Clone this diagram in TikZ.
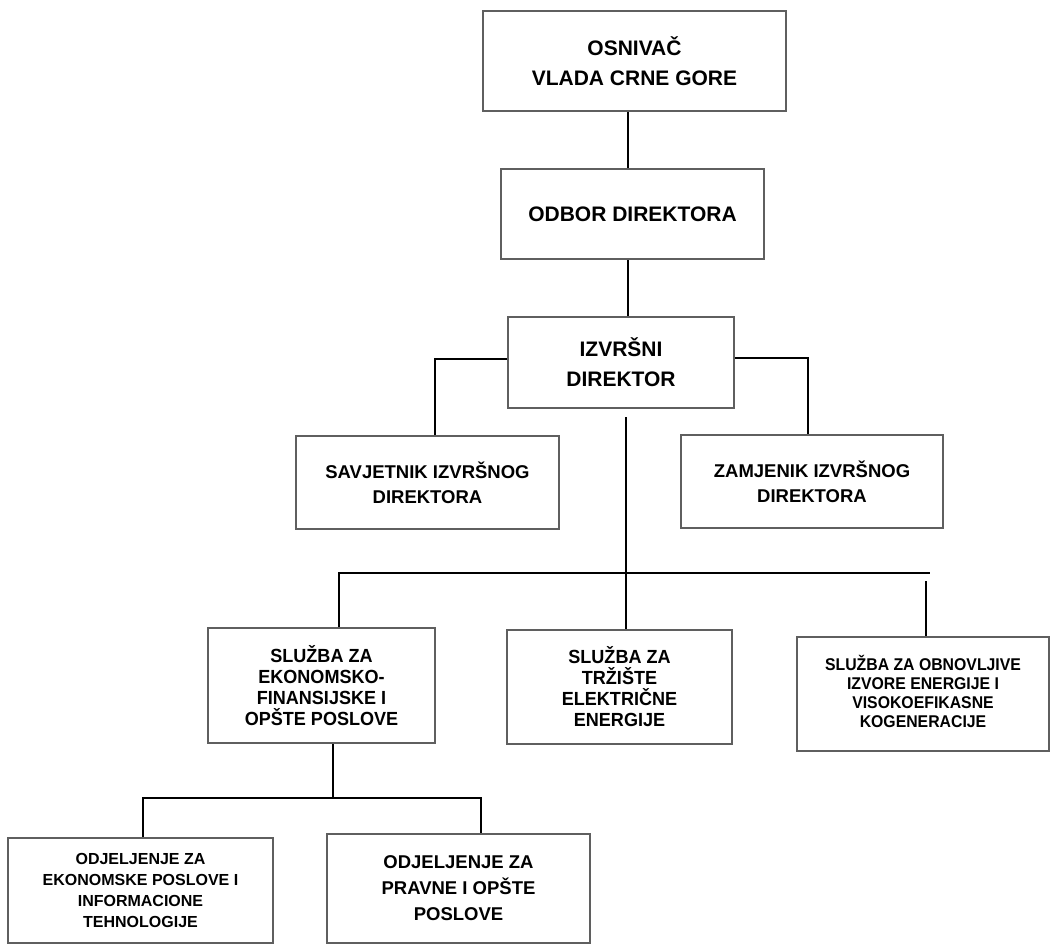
\documentclass[tikz,border=0pt]{standalone}
\usepackage{fontspec}
\setmainfont{Liberation Sans}
\newfontfamily\narrowA[FakeStretch=0.95]{Liberation Sans}
\newfontfamily\narrowB[FakeStretch=0.93]{Liberation Sans}
\definecolor{boxgray}{RGB}{95,95,95}
\begin{document}
\begin{tikzpicture}[x=1pt,y=-1pt,
  orgbox/.style={draw=boxgray, line width=2.8pt, align=center, inner sep=0pt, fill=white},
  conn/.style={draw=black, line width=2.4pt},
  fbig/.style={font=\fontsize{21}{30}\selectfont\bfseries},
  fmid/.style={font=\fontsize{18.5}{25}\selectfont\bfseries},
  fsla/.style={font=\narrowA\fontsize{19}{21}\selectfont\bfseries},
  fslb/.style={font=\narrowB\fontsize{17}{19}\selectfont\bfseries},
  fodA/.style={font=\fontsize{16}{21}\selectfont\bfseries},
  fodB/.style={font=\fontsize{18.5}{26}\selectfont\bfseries}]
\useasboundingbox[fill=white] (0,0) rectangle (1051,947);

\node[orgbox, fbig, minimum width=303pt, minimum height=100pt] (osn) at (634.5,61) {OSNIVAČ\\VLADA CRNE GORE};
\node[orgbox, fbig, minimum width=263pt, minimum height=90pt] (odb) at (632.5,214) {ODBOR DIREKTORA};
\node[orgbox, fbig, minimum width=226pt, minimum height=91pt] (izv) at (621,362.5) {IZVRŠNI\\DIREKTOR};
\node[orgbox, fmid, minimum width=263pt, minimum height=93pt] (sav) at (427.5,482.5) {SAVJETNIK IZVRŠNOG\\DIREKTORA};
\node[orgbox, fmid, minimum width=262pt, minimum height=93pt] (zam) at (812,481.5) {ZAMJENIK IZVRŠNOG\\DIREKTORA};
\node[orgbox, fsla, minimum width=227pt, minimum height=115pt] (sl1) at (321.5,685.5) {SLUŽBA ZA\\EKONOMSKO-\\FINANSIJSKE I\\OPŠTE POSLOVE};
\node[orgbox, fsla, minimum width=225pt, minimum height=114pt] (sl2) at (619.5,687) {SLUŽBA ZA\\TRŽIŠTE\\ELEKTRIČNE\\ENERGIJE};
\node[orgbox, fslb, minimum width=252pt, minimum height=114pt] (sl3) at (923,694) {\raisebox{6pt}{\begin{tabular}{@{}c@{}}SLUŽBA ZA OBNOVLJIVE\\IZVORE ENERGIJE I\\VISOKOEFIKASNE\\KOGENERACIJE\end{tabular}}};
\node[orgbox, fodA, minimum width=265pt, minimum height=105pt] (od1) at (140.5,890.5) {ODJELJENJE ZA\\EKONOMSKE POSLOVE I\\INFORMACIONE\\TEHNOLOGIJE};
\node[orgbox, fodB, minimum width=263pt, minimum height=109pt] (od2) at (458.5,888.5) {ODJELJENJE ZA\\PRAVNE I OPŠTE\\POSLOVE};

% connector coordinates
\coordinate (c1) at (628,0);
\coordinate (sl) at (435,359);
\coordinate (sr) at (808,358);
\coordinate (bus) at (626,573);
\coordinate (bl) at (339,573);
\coordinate (br) at (930,573);
\coordinate (br2) at (926,581);
\coordinate (sb) at (333,798);
\coordinate (sbl) at (143,798);
\coordinate (sbr) at (481,798);

\draw[conn] (osn.south -| c1) -- (odb.north -| c1);
\draw[conn] (odb.south -| c1) -- (izv.north -| c1);
\draw[conn] (sl -| izv.west) -- (sl) -- (sl |- sav.north);
\draw[conn] (sr -| izv.east) -- (sr) -- (sr |- zam.north);
\draw[conn] ([yshift=-8pt]izv.south -| bus) -- (bus);
\draw[conn] (bl |- sl1.north) -- (bl) -- (br);
\draw[conn] (bus) -- (bus |- sl2.north);
\draw[conn] (br2) -- (br2 |- sl3.north);
\draw[conn] (sl1.south -| sb) -- (sb);
\draw[conn] (sbl |- od1.north) -- (sbl) -- (sbr) -- (sbr |- od2.north);
\end{tikzpicture}
\end{document}
